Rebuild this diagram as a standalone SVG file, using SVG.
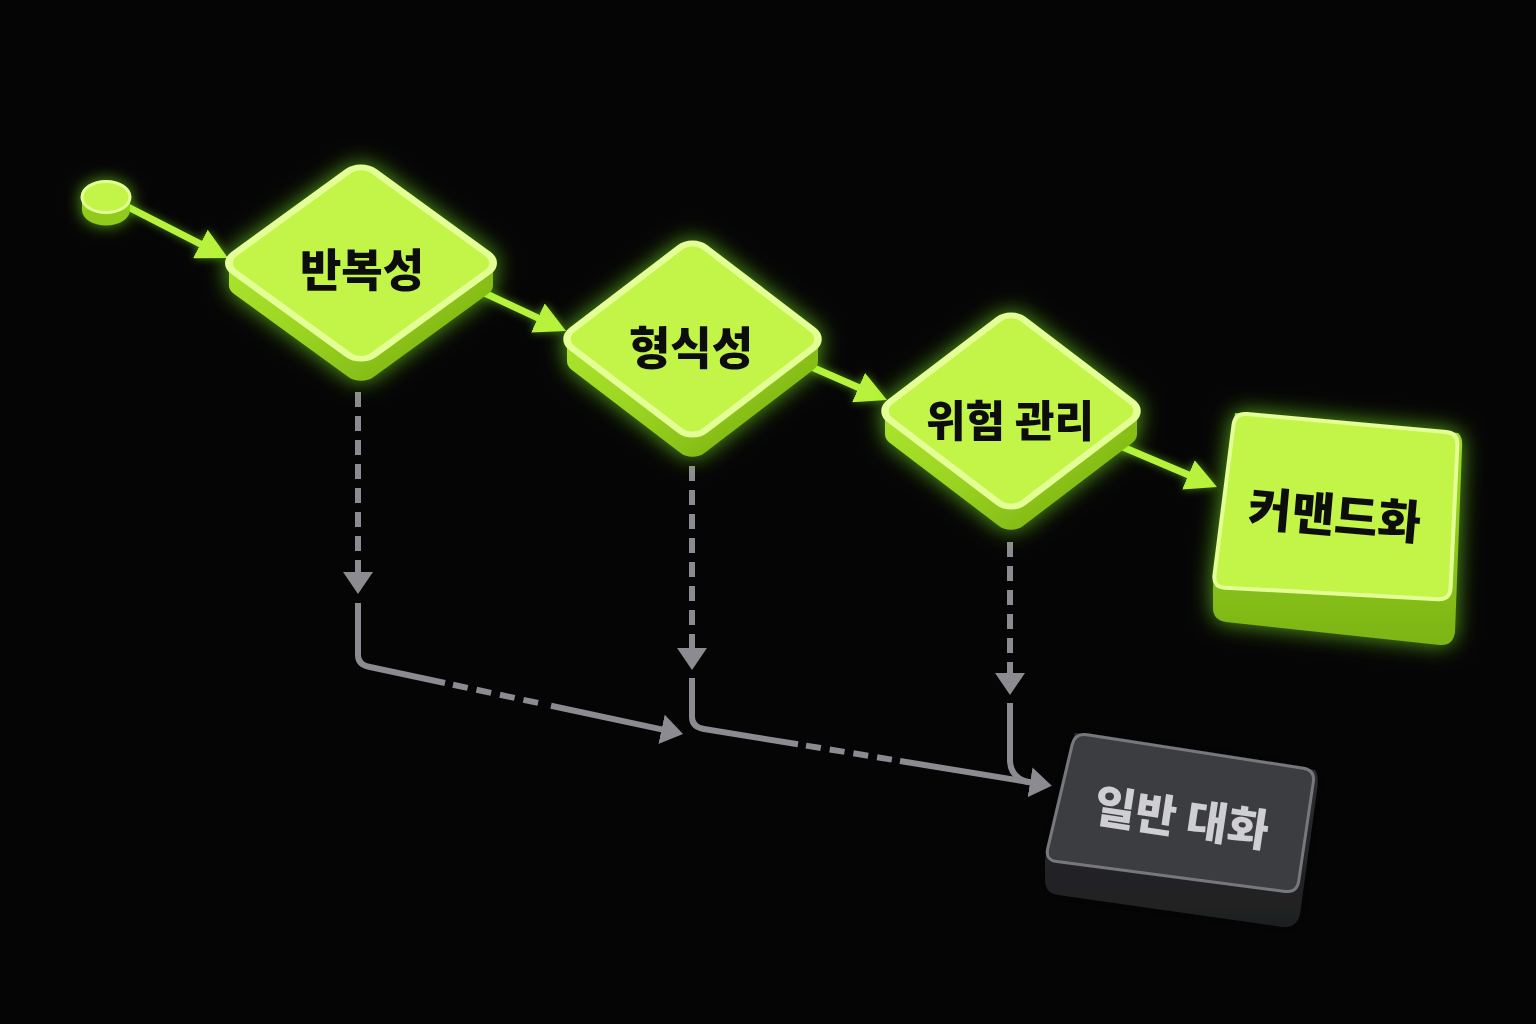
<svg xmlns="http://www.w3.org/2000/svg" width="1536" height="1024" viewBox="0 0 1536 1024">
  <style>
    .face { fill: #c3f54a; stroke: #e3ff96; stroke-width: 4; vector-effect: non-scaling-stroke; }
    .side { fill: url(#sideG); }
    .lbl { font-family: "Noto Sans CJK KR", "Noto Sans", sans-serif; font-weight: 900; fill: #101010; text-anchor: middle; dominant-baseline: central; }
    .glbl { font-family: "Noto Sans CJK KR", "Noto Sans", sans-serif; font-weight: 900; fill: #cfcfd3; text-anchor: middle; dominant-baseline: central; }
    .gline { fill: none; stroke: #b9f23c; stroke-width: 7; stroke-linecap: butt; }
    .gray { fill: none; stroke: #8b8b91; stroke-width: 6; stroke-linecap: butt; }
    .dash { stroke-dasharray: 15 9; }
  </style>
  <defs>
    <linearGradient id="sideG" x1="0" y1="0" x2="1" y2="0">
      <stop offset="0" stop-color="#a8e22c"/>
      <stop offset="0.5" stop-color="#9bd522"/>
      <stop offset="1" stop-color="#86bd18"/>
    </linearGradient>
    <linearGradient id="boxSide" x1="0" y1="0" x2="0" y2="1">
      <stop offset="0" stop-color="#a3de28"/>
      <stop offset="1" stop-color="#7cb516"/>
    </linearGradient>
    <linearGradient id="graySide" x1="0" y1="0" x2="0" y2="1">
      <stop offset="0" stop-color="#303134"/>
      <stop offset="1" stop-color="#1e1f21"/>
    </linearGradient>
    <filter id="glow" x="-30%" y="-30%" width="160%" height="160%">
      <feGaussianBlur in="SourceAlpha" stdDeviation="11" result="b"/>
      <feFlood flood-color="#86ff22" flood-opacity="0.65"/>
      <feComposite in2="b" operator="in" result="g"/>
      <feMerge><feMergeNode in="g"/><feMergeNode in="SourceGraphic"/></feMerge>
    </filter>
    <filter id="glowS" x="-100%" y="-100%" width="300%" height="300%">
      <feGaussianBlur in="SourceAlpha" stdDeviation="8" result="b"/>
      <feFlood flood-color="#86ff22" flood-opacity="0.65"/>
      <feComposite in2="b" operator="in" result="g"/>
      <feMerge><feMergeNode in="g"/><feMergeNode in="SourceGraphic"/></feMerge>
    </filter>
    <filter id="lglow" x="-20%" y="-50%" width="140%" height="200%">
      <feGaussianBlur in="SourceAlpha" stdDeviation="4" result="b"/>
      <feFlood flood-color="#86ff22" flood-opacity="0.5"/>
      <feComposite in2="b" operator="in" result="g"/>
      <feMerge><feMergeNode in="g"/><feMergeNode in="SourceGraphic"/></feMerge>
    </filter>
    <filter id="shadow" x="-20%" y="-20%" width="140%" height="140%">
      <feGaussianBlur in="SourceAlpha" stdDeviation="6" result="b"/>
      <feFlood flood-color="#000000" flood-opacity="0.6"/>
      <feComposite in2="b" operator="in" result="g"/>
      <feMerge><feMergeNode in="g"/><feMergeNode in="SourceGraphic"/></feMerge>
    </filter>
    <marker id="ahG" markerUnits="userSpaceOnUse" viewBox="0 0 32 32" markerWidth="32" markerHeight="32" refX="8" refY="16" orient="auto">
      <path d="M0,0 L31,16 L0,32 Z" fill="#b9f23c"/>
    </marker>
    <marker id="ahS" markerUnits="userSpaceOnUse" viewBox="0 0 22 30" markerWidth="22" markerHeight="30" refX="6" refY="15" orient="auto">
      <path d="M0,0 L22,15 L0,30 Z" fill="#8b8b91"/>
    </marker>
    <rect id="dia" x="0" y="0" width="100" height="100" rx="9" ry="9"/>
  </defs>

  <rect width="1536" height="1024" fill="#050505"/>

  <g id="connectors">
    <g filter="url(#lglow)">
      <path class="gline" d="M128,207 L207.5,247.6" marker-end="url(#ahG)"/>
      <path class="gline" d="M478,290 L545.2,321.3" marker-end="url(#ahG)"/>
      <path class="gline" d="M807,365 L865.9,390.8" marker-end="url(#ahG)"/>
      <path class="gline" d="M1118,445 L1195.8,478" marker-end="url(#ahG)"/>
    </g>
    <g>
      <path class="gray dash" d="M358,392 V578" marker-end="url(#ahS)"/>
      <path class="gray" d="M358,603 V655 Q358,665 370,667 L445,683"/>
      <path class="gray dash" d="M453,684.8 L544,704.2"/>
      <path class="gray" d="M551,705.7 L667.4,730.6" marker-end="url(#ahS)"/>

      <path class="gray dash" d="M692,466 V654" marker-end="url(#ahS)"/>
      <path class="gray" d="M692,678 V717 Q692,727 704,729 L798,744.3"/>
      <path class="gray dash" d="M806,745.6 L893,759.8"/>
      <path class="gray" d="M900,761 L1036,783.2" marker-end="url(#ahS)"/>

      <path class="gray dash" d="M1010,542 V679" marker-end="url(#ahS)"/>
      <path class="gray" d="M1010,703 V760 Q1010,776 1026,781.5 L1036,783.5"/>
    </g>
  </g>

  <g id="start" filter="url(#glowS)">
    <ellipse cx="106" cy="210" rx="24" ry="15.5" fill="#8fca1c"/>
    <rect x="82" y="197" width="48" height="13" fill="#98d321"/>
    <ellipse cx="106" cy="197" rx="24" ry="15.5" fill="#c3f54a" stroke="#e3ff96" stroke-width="3"/>
  </g>

  <g id="node-repeat" filter="url(#glow)">
    <use href="#dia" class="side" transform="translate(0,22) matrix(1.394,1.01,-1.394,1.01,361,162)"/>
    <polygon class="side" points="229,263 493,263 493,285 229,285"/>
    <use href="#dia" class="face" transform="matrix(1.394,1.01,-1.394,1.01,361,162)"/>
    <text class="lbl" x="362" y="267" font-size="45">반복성</text>
  </g>

  <g id="node-formal" filter="url(#glow)">
    <use href="#dia" class="side" transform="translate(0,22) matrix(1.325,1.01,-1.325,1.01,692.5,238)"/>
    <polygon class="side" points="567,339 818,339 818,361 567,361"/>
    <use href="#dia" class="face" transform="matrix(1.325,1.01,-1.325,1.01,692.5,238)"/>
    <text class="lbl" x="691" y="345" font-size="45">형식성</text>
  </g>

  <g id="node-risk" filter="url(#glow)">
    <use href="#dia" class="side" transform="translate(0,23) matrix(1.33,1.01,-1.33,1.01,1011,310)"/>
    <polygon class="side" points="885,411 1137,411 1137,434 885,434"/>
    <use href="#dia" class="face" transform="matrix(1.33,1.01,-1.33,1.01,1011,310)"/>
    <text class="lbl" x="1010" y="418" font-size="43">위험 관리</text>
  </g>

  <g id="node-command" filter="url(#glow)">
    <path fill="url(#boxSide)" d="M1235,413 L1458,433 Q1463,437 1462,448 L1455,632 Q1453,646 1440,645 L1226,622 Q1213,620 1213,608 L1213,587 Z"/>
    <path class="face" d="M1247,414 L1446,432 Q1458,433 1457.4,445 L1450.6,588 Q1450,600 1438,599.3 L1225,587.7 Q1213,587 1214.5,575 L1233.5,425 Q1235,413 1247,414 Z"/>
    <text class="lbl" x="1335" y="512" font-size="47" transform="rotate(5 1335 512)">커맨드화</text>
  </g>

  <g id="node-chat" filter="url(#shadow)">
    <path fill="url(#graySide)" d="M1075,733 L1315,770 Q1319,776 1317,790 L1300,914 Q1297,928 1283,927 L1058,895 Q1045,893 1045,880 L1045,860 Z"/>
    <path fill="#3b3c40" stroke="#77787d" stroke-width="3" d="M1086.9,734.8 L1303.1,768.2 Q1315,770 1313.3,781.9 L1298.7,881.1 Q1297,893 1285.1,891.4 L1056.9,861.6 Q1045,860 1047.8,848.3 L1072.2,744.7 Q1075,733 1086.9,734.8 Z"/>
    <text class="glbl" x="1182" y="815" font-size="45" transform="rotate(8.5 1182 815)">일반 대화</text>
  </g>
</svg>
